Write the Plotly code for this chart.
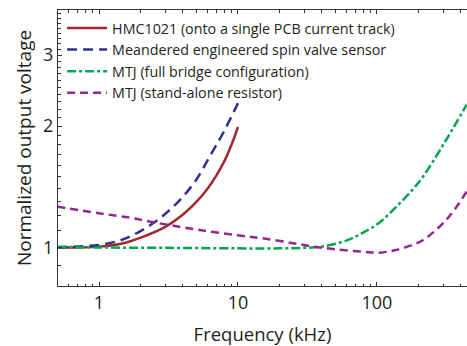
import plotly.graph_objects as go

# ---- data ----
hmc_f = [0.5, 0.7, 1.0, 1.5, 2.0, 3.0, 4.0, 5.0, 6.0, 7.0, 8.0, 9.0, 10.0]
hmc_v = [1.0, 1.0, 1.005, 1.025, 1.058, 1.125, 1.205, 1.295, 1.395, 1.51, 1.64, 1.80, 1.99]

spin_f = [0.5, 1.0, 1.4, 1.76, 2.45, 3.23, 4.02, 5.0, 6.25, 7.8, 10.0]
spin_v = [1.0, 1.015, 1.04, 1.074, 1.148, 1.239, 1.337, 1.47, 1.68, 1.92, 2.28]

bridge_f = [0.5, 1, 3, 10, 20, 30, 40, 60, 80, 105, 137, 180, 215, 315, 442]
bridge_v = [1.005, 1.0, 0.998, 0.995, 0.995, 0.998, 1.005, 1.04, 1.09, 1.155, 1.26, 1.39, 1.50, 1.85, 2.26]

alone_f = [0.5, 1, 1.66, 2.3, 3.2, 5.3, 10, 15, 25, 35, 50, 80, 105, 137, 180, 215, 315, 442]
alone_v = [1.263, 1.216, 1.186, 1.16, 1.137, 1.105, 1.072, 1.054, 1.025, 1.005, 0.99, 0.976, 0.971, 0.986, 1.015, 1.044, 1.17, 1.375]

names = ["HMC1021 (onto a single PCB current track)",
         "Meandered engineered spin valve sensor",
         "MTJ (full bridge configuration)",
         "MTJ (stand-alone resistor)"]

x_major = [1, 10, 100]
y_major = [1, 2, 3]
y_major_text = ["1", "2", "3"]
y_minor = [0.8, 0.9, 1.1, 1.2, 1.3, 1.4, 1.5, 1.6, 1.7, 1.8, 1.9,
           2.1, 2.2, 2.3, 2.4, 2.5, 2.6, 2.7, 2.8, 2.9,
           3.1, 3.2, 3.3, 3.4, 3.5, 3.6, 3.7, 3.8]

FONT = "Open Sans"

fig = go.Figure()
fig.add_trace(go.Scatter(x=hmc_f, y=hmc_v, name=names[0], mode="lines",
                         line=dict(color="#9e2a2b", width=2.5, shape="spline", smoothing=1.0)))
fig.add_trace(go.Scatter(x=spin_f, y=spin_v, name=names[1], mode="lines",
                         line=dict(color="#2e3192", width=2.5, dash="10px,6px", shape="spline", smoothing=1.0)))
fig.add_trace(go.Scatter(x=bridge_f, y=bridge_v, name=names[2], mode="lines",
                         line=dict(color="#00a651", width=2.5, dash="9px,3px,3px,3px", shape="spline", smoothing=1.0)))
fig.add_trace(go.Scatter(x=alone_f, y=alone_v, name=names[3], mode="lines",
                         line=dict(color="#92278f", width=2.5, dash="8px,5px", shape="spline", smoothing=1.0)))

axis_col = "#333333"
fig.update_layout(
    width=467, height=346,
    margin=dict(l=58, r=0, t=10, b=60),
    paper_bgcolor="white", plot_bgcolor="white",
    font=dict(family=FONT, color="#231f20", size=18),
    showlegend=True,
    legend=dict(x=0.01, y=0.992, xanchor="left", yanchor="top",
                bgcolor="rgba(0,0,0,0)", font=dict(size=14.3, family=FONT),
                itemwidth=40, tracegroupgap=0),
    xaxis=dict(type="log", range=[-0.295, 2.648],
               tickmode="array", tickvals=x_major, ticktext=["1", "10", "100"],
               ticks="inside", ticklen=4, tickwidth=1, tickcolor=axis_col,
               showline=True, linecolor=axis_col, linewidth=1, mirror="ticks",
               showgrid=False, zeroline=False,
               minor=dict(dtick="D1", ticks="inside", ticklen=2.5, tickcolor=axis_col, showgrid=False),
               title=dict(text="Frequency (kHz)", font=dict(size=18.5), standoff=16),
               tickfont=dict(size=18)),
    yaxis=dict(type="log", range=[-0.0955, 0.589],
               tickmode="array", tickvals=y_major, ticktext=y_major_text,
               ticks="inside", ticklen=4, tickwidth=1, tickcolor=axis_col,
               showline=True, linecolor=axis_col, linewidth=1, mirror=False,
               showgrid=False, zeroline=False,
               minor=dict(tickvals=y_minor, ticks="inside", ticklen=2.5, tickcolor=axis_col, showgrid=False),
               title=dict(text="Normalized output voltage", font=dict(size=19), standoff=6),
               tickfont=dict(size=18)),
)

fig.write_html("out.html")
